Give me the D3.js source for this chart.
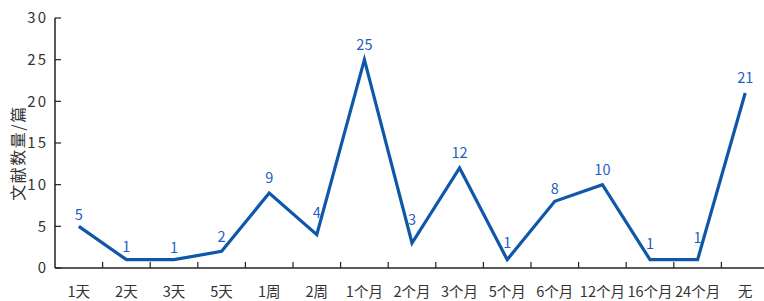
<!DOCTYPE html>
<html>
<head>
<meta charset="utf-8">
<script src="https://cdn.jsdelivr.net/npm/d3@7"></script>
<style>
  body { margin: 0; background: #fff; }
  svg { display: block; }
  text { font-family: "Noto Sans CJK SC", "Noto Sans", sans-serif; }
</style>
</head>
<body>
<div id="chart"></div>
<script>
const categories = ['1天', '2天', '3天', '5天', '1周', '2周', '1个月', '2个月', '3个月', '5个月', '6个月', '12个月', '16个月', '24个月', '无'];
const counts = [5, 1, 1, 2, 9, 4, 25, 3, 12, 1, 8, 10, 1, 1, 21];
const yTicks = [0, 5, 10, 15, 20, 25, 30];
const yLabel = '文献数量/篇';

const W = 764, H = 301;
const margin = {top: 18, bottom: 33, left: 55, right: -5};
const width = W - margin.left - margin.right;
const height = H - margin.top - margin.bottom;

const svg = d3.select('#chart')
    .append('svg')
    .attr('width', W)
    .attr('height', H)
    .append('g')
        .attr('transform', `translate(${margin.left}, ${margin.top})`);

const x = d3.scaleBand()
    .domain(categories)
    .range([0, width]);

const y = d3.scaleLinear()
    .domain([0, 30])
    .range([height, 0]);

const cx = i => x(categories[i]) + x.bandwidth() / 2;

// x axis: ticks at band boundaries, pointing inward
const xAxisG = svg.append('g')
    .attr('transform', `translate(0, ${height})`);
xAxisG.append('line')
    .attr('x1', 0).attr('x2', width)
    .attr('stroke', '#222').attr('stroke-width', 1.5);
xAxisG.selectAll('.tick')
    .data(categories.slice(1))
    .enter().append('line')
    .attr('x1', d => x(d)).attr('x2', d => x(d))
    .attr('y1', 0).attr('y2', -6)
    .attr('stroke', '#222').attr('stroke-width', 1.2);
xAxisG.selectAll('.lbl')
    .data(categories)
    .enter().append('text')
    .attr('x', d => x(d) + x.bandwidth() / 2)
    .attr('y', 29)
    .attr('text-anchor', 'middle')
    .attr('font-size', 14.5)
    .attr('fill', '#333')
    .text(d => d);

// y axis
const yAxisG = svg.append('g');
yAxisG.append('line')
    .attr('y1', 0).attr('y2', height)
    .attr('stroke', '#222').attr('stroke-width', 1.5);
yAxisG.selectAll('.tick')
    .data(yTicks)
    .enter().append('line')
    .attr('x1', 0).attr('x2', 6)
    .attr('y1', d => y(d)).attr('y2', d => y(d))
    .attr('stroke', '#222').attr('stroke-width', 1.2);
yAxisG.selectAll('.lbl')
    .data(yTicks)
    .enter().append('text')
    .attr('x', -7)
    .attr('y', d => y(d))
    .attr('dy', '0.35em')
    .attr('text-anchor', 'end')
    .attr('font-size', 15)
    .attr('letter-spacing', 2)
    .attr('fill', '#333')
    .text(d => d);

svg.append('text')
    .attr('transform', `translate(${-31}, ${height / 2 + 10}) rotate(-90)`)
    .attr('text-anchor', 'middle')
    .attr('font-size', 16)
    .attr('letter-spacing', 1.5)
    .attr('fill', '#333')
    .text(yLabel);

// line
const line = d3.line()
    .x((d, i) => cx(i))
    .y(d => y(d));

svg.append('path')
    .datum(counts)
    .attr('d', line)
    .attr('fill', 'none')
    .attr('stroke', '#0f57a8')
    .attr('stroke-width', 3.2)
    .attr('stroke-linejoin', 'miter');

// label sits above the line within a few px either side of the point,
// peaks get a bit more room for the miter tip
const labelY = (d, i) => {
    const half = 3;
    const step = x.bandwidth();
    let top = y(d);
    const prev = counts[i - 1], next = counts[i + 1];
    if (prev !== undefined) top = Math.min(top, y(d) + (y(prev) - y(d)) * half / step);
    if (next !== undefined) top = Math.min(top, y(d) + (y(next) - y(d)) * half / step);
    const peak = (prev === undefined || d > prev) && (next === undefined || d > next) &&
        Math.max(d - (prev ?? d), d - (next ?? d)) > 4;
    return top - (peak ? 10 : 6);
};

svg.selectAll('.val')
    .data(counts)
    .enter().append('text')
    .attr('x', (d, i) => cx(i))
    .attr('y', labelY)
    .attr('text-anchor', 'middle')
    .attr('font-size', 14.5)
    .attr('fill', '#1f5fc0')
    .text(d => d);
</script>
</body>
</html>
